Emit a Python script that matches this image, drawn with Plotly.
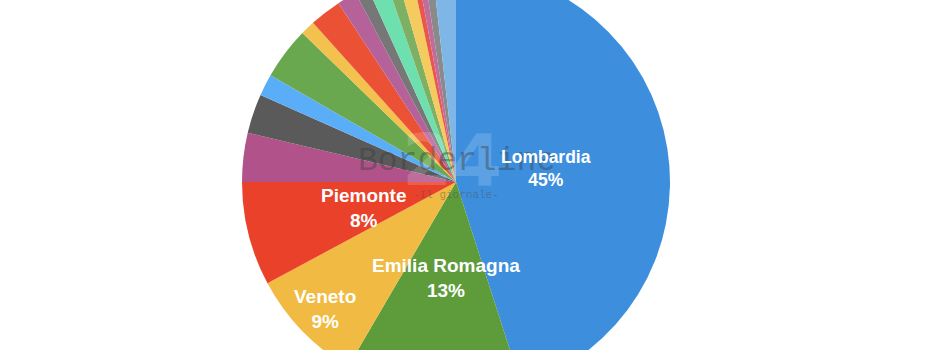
import plotly.graph_objects as go

regions = ["Lombardia", "Emilia Romagna", "Veneto", "Piemonte", "Toscana",
           "Lazio", "Campania", "Marche", "Liguria", "Friuli Venezia Giulia",
           "Puglia", "Trentino Alto Adige", "Abruzzo", "Sicilia", "Umbria",
           "Sardegna", "Calabria", "Basilicata", "Valle d'Aosta"]
shares = [45.05, 13.36, 8.74, 7.85, 3.68, 2.98, 1.64, 3.94, 1.10, 2.40,
          1.47, 0.99, 1.46, 0.90, 1.10, 0.44, 0.49, 0.65, 1.75]
colors = ["#3D8FDE", "#5E9B3B", "#F1BA42", "#E9412A", "#B1538A",
          "#5A5A5A", "#5AAEF7", "#6AA84F", "#F2C14E", "#EB5135",
          "#B5629A", "#777777", "#6EE0B0", "#7DB062", "#F3CB5E",
          "#E9574A", "#C06D9E", "#8A8A8A", "#7FB6E8"]
labelled = 4

W, H = 930, 428
SHIFT = 32          # pixels of the page hidden above the window
cx, r = 456, 214

fig = go.Figure(go.Pie(
    labels=regions,
    values=shares,
    sort=False,
    direction="clockwise",
    rotation=0,
    marker=dict(colors=colors, line=dict(width=0)),
    textinfo="none",
    hoverinfo="label+percent",
    domain=dict(x=[(cx - r) / W, (cx + r) / W], y=[0, 1]),
    showlegend=False,
))


def note(px, py, text, font):
    fig.add_annotation(x=px / W, y=1 - (py + SHIFT) / H, xref="paper", yref="paper",
                       xanchor="center", yanchor="middle", align="center",
                       text=text, showarrow=False, font=font)


# watermark
note(452, 160, "24", dict(family="DejaVu Sans", size=72, color="rgba(255,255,255,0.16)", weight="bold"))
note(457, 161, "Borderline", dict(family="Liberation Mono", size=33, color="rgba(60,60,60,0.42)"))
note(456, 195, "-Il giornale-", dict(family="Liberation Mono", size=11, color="rgba(80,80,80,0.45)"))

# slice labels (placement inside the wedges, as in the reference)
label_pos = [(546, 168), (446, 278), (325, 309), (364, 208)]
label_size = [17.5, 19, 19, 19]
total = sum(shares)
for i in range(labelled):
    px, py = label_pos[i]
    note(px, py, f"{regions[i]}<br>{round(shares[i] / total * 100)}%",
         dict(family="Liberation Sans", size=label_size[i], color="white", weight="bold"))

fig.update_layout(
    width=W, height=H,
    margin=dict(l=0, r=0, t=0, b=0),
    paper_bgcolor="white",
    plot_bgcolor="white",
)

post = ("document.body.style.margin='0';"
        "document.body.style.overflow='hidden';"
        "document.getElementById('{plot_id}').style.marginTop='-" + str(SHIFT) + "px';")
fig.write_html("out.html", post_script=post)
